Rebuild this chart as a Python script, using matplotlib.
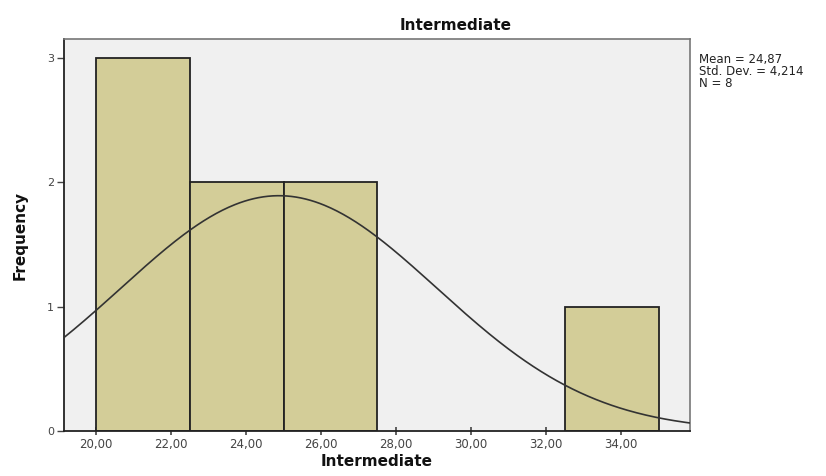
import numpy as np
import matplotlib
matplotlib.use("Agg")
import matplotlib.pyplot as plt

bin_edges = [20.0, 22.5, 25.0, 27.5, 30.0, 32.5, 35.0]
counts = [3, 2, 2, 0, 0, 1]
mean = 24.875
std = 4.214
n = 8
xticks = [20, 22, 24, 26, 28, 30, 32, 34]
xtick_labels = ["20,00", "22,00", "24,00", "26,00", "28,00", "30,00", "32,00", "34,00"]
yticks = [0, 1, 2, 3]

fig = plt.figure(figsize=(8.26, 4.76), dpi=100)
ax = fig.add_axes([0.0775, 0.0945, 0.7579, 0.8235])
ax.set_facecolor("#f0f0f0")

for i, c in enumerate(counts):
    if c > 0:
        ax.bar(bin_edges[i], c, width=bin_edges[i + 1] - bin_edges[i], align="edge",
               color="#d3cd98", edgecolor="#222222", linewidth=1.3, zorder=2)

xs = np.linspace(19.15, 35.83, 400)
binw = bin_edges[1] - bin_edges[0]
ys = n * binw / (std * np.sqrt(2 * np.pi)) * np.exp(-0.5 * ((xs - mean) / std) ** 2)
ax.plot(xs, ys, color="#333333", linewidth=1.2, zorder=3)

ax.set_xlim(19.15, 35.83)
ax.set_ylim(0, 3.154)
ax.set_xticks(xticks)
ax.set_xticklabels(xtick_labels, fontsize=8.5, color="#444444")
ax.set_yticks(yticks)
ax.set_yticklabels([str(v) for v in yticks], fontsize=8, color="#444444")
ax.tick_params(axis="x", direction="inout", length=6, width=1.2, color="#444444", pad=2)
ax.tick_params(axis="y", direction="out", length=5, width=1, color="#444444", pad=2)

for s in ["left", "bottom"]:
    ax.spines[s].set_color("#222222")
    ax.spines[s].set_linewidth(1.3)
for s in ["top", "right"]:
    ax.spines[s].set_color("#777777")
    ax.spines[s].set_linewidth(1.2)

fig.text(0.552, 0.947, "Intermediate", fontsize=11, fontweight="bold",
         ha="center", va="center", color="#111111")
ax.set_xlabel("Intermediate", fontsize=11, fontweight="bold", labelpad=2, color="#111111")
ax.set_ylabel("Frequency", fontsize=11, fontweight="bold", labelpad=14,
              family="Liberation Sans Narrow", color="#111111")

fig.text(0.846, 0.888, "Mean = 24,87\nStd. Dev. = 4,214\nN = 8", fontsize=8.5,
         va="top", ha="left", linespacing=0.9, color="#222222")

fig.savefig("out.png", dpi=100)
